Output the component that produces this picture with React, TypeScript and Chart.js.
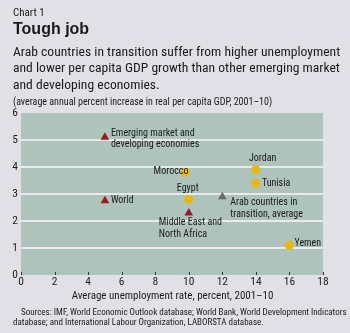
import React, { useEffect, useRef } from "react";
import { Chart, registerables } from "chart.js";

Chart.register(...registerables);

const titleSmall = "Chart 1";
const titleMain = "Tough job";
const subtitleLines = [
  "Arab countries in transition suffer from higher unemployment",
  "and lower per capita GDP growth than other emerging market",
  "and developing economies.",
];
const unitNote = "(average annual percent increase in real per capita GDP, 2001–10)";
const xTitle = "Average unemployment rate, percent, 2001–10";
const sourceLines = [
  "Sources: IMF, World Economic Outlook database; World Bank, World Development Indicators",
  "database; and International Labour Organization, LABORSTA database.",
];

const xTicks = [0, 2, 4, 6, 8, 10, 12, 14, 16, 18];
const yTicks = [0, 1, 2, 3, 4, 5, 6];

// Aggregates (triangles)
const aggNames = [["Emerging market and", "developing economies"], ["World"], ["Middle East and", "North Africa"]];
const aggX = [5, 5, 10];
const aggY = [5.1, 2.75, 2.3];

// Arab average (grey triangle)
const arabNames = [["Arab countries in", "transition, average"]];
const arabX = [12];
const arabY = [2.9];

// Countries (circles)
const countryNames = [["Morocco"], ["Jordan"], ["Tunisia"], ["Egypt"], ["Yemen"]];
const countryX = [9.8, 14, 14, 10, 16];
const countryY = [3.8, 3.9, 3.4, 2.8, 1.1];

const FONT = "'Liberation Sans Narrow', 'Roboto Condensed', 'Roboto', sans-serif";

// label offsets in px relative to point: [dx, dy, align]
const aggLabelPos: [number, number, CanvasTextAlign][] = [
  [6, -4, "left"],
  [6, 0, "left"],
  [-30, 10, "left"],
];
const arabLabelPos: [number, number, CanvasTextAlign][] = [[8, 6, "left"]];
const countryLabelPos: [number, number, CanvasTextAlign][] = [
  [3, -1, "right"],
  [-7, -11, "left"],
  [6, 0, "left"],
  [-12, -11, "left"],
  [5, -2, "left"],
];

export default function App() {
  const ref = useRef<HTMLCanvasElement>(null);
  useEffect(() => {
    document.body.style.margin = "0";
    const ctx = ref.current!.getContext("2d")!;
    const bgPlugin = {
      id: "bg",
      beforeDraw(chart: any) {
        const { ctx, chartArea } = chart;
        ctx.save();
        ctx.fillStyle = "#aec3bc";
        ctx.fillRect(chartArea.left, chartArea.top, chartArea.right - chartArea.left, chartArea.bottom - chartArea.top);
        ctx.restore();
      },
      afterDatasetsDraw(chart: any) {
        const { ctx, chartArea, scales } = chart;
        ctx.save();
        ctx.strokeStyle = "#333";
        ctx.lineWidth = 1;
        xTicks.forEach((t) => {
          const x = Math.round(scales.x.getPixelForValue(t)) + 0.5;
          ctx.beginPath();
          ctx.moveTo(x, chartArea.bottom - 3);
          ctx.lineTo(x, chartArea.bottom);
          ctx.stroke();
        });
        ctx.fillStyle = "#1a1a1a";
        ctx.font = "10px " + FONT;
        ctx.textBaseline = "middle";
        const drawSet = (names: string[][], xs: number[], ys: number[], pos: [number, number, CanvasTextAlign][]) => {
          names.forEach((lines, i) => {
            const px = scales.x.getPixelForValue(xs[i]);
            const py = scales.y.getPixelForValue(ys[i]);
            const [dx, dy, al] = pos[i];
            ctx.textAlign = al;
            lines.forEach((ln, j) => {
              ctx.fillText(ln, px + dx, py + dy + j * 11.5);
            });
          });
        };
        drawSet(aggNames, aggX, aggY, aggLabelPos);
        drawSet(arabNames, arabX, arabY, arabLabelPos);
        drawSet(countryNames, countryX, countryY, countryLabelPos);
        ctx.restore();
      },
    };
    const toPts = (xs: number[], ys: number[]) => xs.map((x, i) => ({ x, y: ys[i] }));
    const chart = new Chart(ctx, {
      type: "scatter",
      data: {
        datasets: [
          {
            data: toPts(aggX, aggY),
            pointStyle: "triangle",
            pointRadius: 5,
            backgroundColor: "#9a1b1e",
            borderColor: "#9a1b1e",
            borderWidth: 0,
          },
          {
            data: toPts(arabX, arabY),
            pointStyle: "triangle",
            pointRadius: 5,
            backgroundColor: "#6a6c6e",
            borderColor: "#6a6c6e",
            borderWidth: 0,
          },
          {
            data: toPts(countryX, countryY),
            pointStyle: "circle",
            pointRadius: 4.5,
            backgroundColor: "#e9b80c",
            borderColor: "#e9b80c",
            borderWidth: 0,
          },
        ],
      },
      options: {
        animation: false,
        responsive: false,
        layout: { padding: { left: 0, top: 113, right: 27, bottom: 0 } },
        plugins: { legend: { display: false }, tooltip: { enabled: false } },
        scales: {
          x: {
            type: "linear",
            min: 0,
            max: 18,
            afterBuildTicks: (s: any) => { s.ticks = xTicks.map((v) => ({ value: v })); },
            afterFit: (s: any) => { s.height = 58; },
            grid: { display: false, tickLength: 0 },
            border: { display: false },
            ticks: { color: "#222", font: { family: FONT, size: 11.5 }, padding: 0 },
          },
          y: {
            type: "linear",
            min: 0,
            max: 6,
            afterBuildTicks: (s: any) => { s.ticks = yTicks.map((v) => ({ value: v })); },
            afterFit: (s: any) => { s.width = 21; },
            grid: {
              drawTicks: false,
              lineWidth: 2,
              color: (c: any) => (c.tick && (c.tick.value === 0 || c.tick.value === 6) ? "rgba(0,0,0,0)" : "#e9eaee"),
            },
            border: { display: false },
            ticks: { color: "#222", font: { family: FONT, size: 11.5 }, padding: 3 },
          },
        },
      },
      plugins: [bgPlugin],
    });
    return () => chart.destroy();
  }, []);

  const text: React.CSSProperties = { position: "absolute", left: 13, whiteSpace: "nowrap", fontFamily: FONT, color: "#1a1a1a", margin: 0 };
  return (
    <div style={{ position: "fixed", left: 0, top: 0, width: 350, height: 333, background: "#e2e0e7", overflow: "hidden" }}>
      <canvas ref={ref} width={350} height={333} style={{ position: "absolute", left: 0, top: 0, width: 350, height: 333 }} />
      <div style={{ ...text, top: 6, fontSize: 11 }}>{titleSmall}</div>
      <div style={{ ...text, top: 20, fontSize: 16, fontWeight: "bold", fontFamily: "'Liberation Sans', Arial, sans-serif" }}>{titleMain}</div>
      {subtitleLines.map((l, i) => (
        <div key={i} style={{ ...text, top: 43 + i * 16.3, fontSize: 13.6 }}>{l}</div>
      ))}
      <div style={{ ...text, top: 96, fontSize: 10 }}>{unitNote}</div>
      <div style={{ ...text, left: 0, width: 345, textAlign: "center", top: 289, fontSize: 11 }}>{xTitle}</div>
      <div style={{ ...text, top: 307, left: 21, fontSize: 9 }}>{sourceLines[0]}</div>
      <div style={{ ...text, top: 317, fontSize: 9 }}>{sourceLines[1]}</div>
    </div>
  );
}
